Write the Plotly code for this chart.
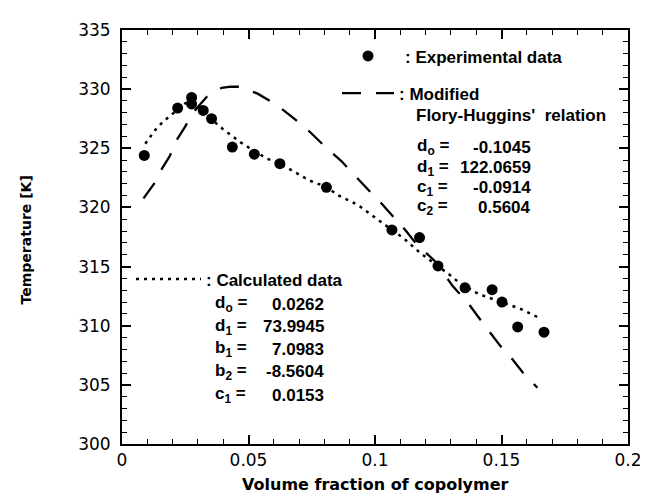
import plotly.graph_objects as go

# ---------------- data ----------------
exp_x = [0.0088, 0.0220, 0.0275, 0.0275, 0.0321, 0.0354, 0.0436, 0.0523, 0.0624,
         0.0808, 0.1067, 0.1176, 0.1249, 0.1356, 0.1463, 0.1502, 0.1564, 0.1668]
exp_t = [324.4, 328.4, 329.3, 328.75, 328.2, 327.5, 325.1, 324.5, 323.7,
         321.7, 318.1, 317.45, 315.05, 313.2, 313.05, 312.0, 309.9, 309.45]

fh_x = [0.0085, 0.0127, 0.0157, 0.0190, 0.0212, 0.0249, 0.0282, 0.0335, 0.0394, 0.0430,
        0.0466, 0.0536, 0.0607, 0.0673, 0.0742, 0.0802, 0.0867, 0.0913, 0.0975, 0.1019,
        0.1078, 0.1123, 0.1163, 0.1235, 0.1308, 0.1367, 0.1404, 0.1452, 0.1492, 0.1544,
        0.1584, 0.1642]
fh_t = [320.76, 322.0, 323.24, 324.39, 325.57, 326.81, 328.05, 329.35, 330.11, 330.22,
        330.2, 329.62, 328.74, 327.64, 326.4, 325.16, 323.92, 322.83, 321.45, 320.49,
        319.11, 318.01, 316.91, 315.5, 313.33, 311.95, 310.86, 309.48, 308.38, 307.14,
        306.04, 304.75]

calc_x = [0.0092, 0.0111, 0.0131, 0.0161, 0.0200, 0.0222, 0.0250, 0.0275, 0.0300, 0.0325,
          0.0354, 0.0400, 0.0436, 0.0469, 0.0520, 0.0574, 0.0624, 0.0696, 0.0742, 0.0808,
          0.0854, 0.0933, 0.1012, 0.1067, 0.1117, 0.1183, 0.1249, 0.1295, 0.1327, 0.1393,
          0.1433, 0.1480, 0.1525, 0.1577, 0.1630, 0.1645]
calc_t = [325.38, 325.99, 326.54, 327.22, 327.92, 328.35, 328.8, 329.0, 328.7, 328.1,
          327.45, 326.6, 326.0, 325.5, 324.8, 324.12, 323.7, 322.8, 322.27, 321.73,
          321.03, 320.2, 318.97, 318.1, 317.32, 316.08, 315.05, 314.3, 313.74, 312.86,
          312.5, 312.15, 311.82, 311.41, 310.85, 310.71]

fh_param_labels = ["d<sub>o</sub> =", "d<sub>1</sub> =", "c<sub>1</sub> =", "c<sub>2</sub> ="]
fh_param_values = ["-0.1045", "122.0659", "-0.0914", "0.5604"]
calc_param_labels = ["d<sub>o</sub> =", "d<sub>1</sub> =", "b<sub>1</sub> =", "b<sub>2</sub> =", "c<sub>1</sub> ="]
calc_param_values = ["0.0262", "73.9945", "7.0983", "-8.5604", "0.0153"]

x_tickvals = [0, 0.05, 0.1, 0.15, 0.2]
x_ticktext = ["0", "0.05", "0.1", "0.15", "0.2"]
y_tickvals = [300, 305, 310, 315, 320, 325, 330, 335]

# ---------------- layout helpers (pixel -> paper) ----------------
W, H = 648, 497
ML, MR, MT, MB = 114, 28, 13, 61
PW, PH = W - ML - MR, H - MT - MB


def px(xp):
    return (xp - ML) / PW


def py(yp):
    return (H - MB - yp) / PH


TFONT = "Liberation Sans"   # Helvetica-like text
NFONT = "DejaVu Sans"       # wide tick numerals / axis titles
TXT = 17

fig = go.Figure()

fig.add_trace(go.Scatter(
    x=calc_x, y=calc_t, mode="lines", name="<b>: Calculated data</b>",
    line=dict(color="black", width=2.5, dash="3px,5px"),
    legend="legend3"))

fig.add_trace(go.Scatter(
    x=fh_x, y=fh_t, mode="lines", name="<b>: Modified</b>",
    line=dict(color="black", width=2.3, dash="19px,15px"),
    legend="legend2"))

fig.add_trace(go.Scatter(
    x=exp_x, y=exp_t, mode="markers", name="<b>: Experimental data</b>",
    marker=dict(color="black", size=11, symbol="circle"),
    legend="legend"))

annotations = []
annotations.append(dict(text="<b>Flory-Huggins'&nbsp; relation</b>", x=px(406), y=py(100),
                        xanchor="left", yanchor="middle"))
up_rows = [133, 153.5, 174, 194]
for lab, val, yy in zip(fh_param_labels, fh_param_values, up_rows):
    annotations.append(dict(text="<b>" + lab + "</b>", x=px(407), y=py(yy), xanchor="left", yanchor="middle"))
    annotations.append(dict(text="<b>" + val + "</b>", x=px(525), y=py(yy), xanchor="right", yanchor="middle"))
low_rows = [293, 316, 339, 362, 386]
for lab, val, yy in zip(calc_param_labels, calc_param_values, low_rows):
    annotations.append(dict(text="<b>" + lab + "</b>", x=px(205), y=py(yy), xanchor="left", yanchor="middle"))
    annotations.append(dict(text="<b>" + val + "</b>", x=px(318), y=py(yy), xanchor="right", yanchor="middle"))
for a in annotations:
    a.update(xref="paper", yref="paper", showarrow=False,
             font=dict(family=TFONT, size=TXT, color="black"))

# axis titles placed as text
annotations.append(dict(text="<b>Temperature [K]</b>", x=px(18), y=py(228),
                        xref="paper", yref="paper", showarrow=False, textangle=-90,
                        xanchor="center", yanchor="middle",
                        font=dict(family=NFONT, size=14, color="black")))
annotations.append(dict(text="<b>Volume fraction of copolymer</b>", x=px(367), y=py(477),
                        xref="paper", yref="paper", showarrow=False,
                        xanchor="center", yanchor="middle",
                        font=dict(family=NFONT, size=16, color="black")))

leg_common = dict(bgcolor="rgba(0,0,0,0)", borderwidth=0, xanchor="left", yanchor="middle",
                  font=dict(family=TFONT, size=TXT, color="black"), tracegroupgap=0)

axis_common = dict(showline=True, linecolor="black", linewidth=2, mirror="allticks",
                   ticks="inside", ticklen=9, tickwidth=1.5, tickcolor="black",
                   showgrid=False, zeroline=False,
                   tickfont=dict(family=NFONT, size=17, color="black"))

fig.update_layout(
    width=W, height=H,
    margin=dict(l=ML, r=MR, t=MT, b=MB),
    paper_bgcolor="white", plot_bgcolor="white",
    showlegend=True,
    legend=dict(x=px(323), y=py(40), itemwidth=64, **leg_common),
    legend2=dict(x=px(329), y=py(78), itemwidth=52, **leg_common),
    legend3=dict(x=px(123), y=py(268), itemwidth=65, **leg_common),
    xaxis=dict(range=[0, 0.2], tickvals=x_tickvals, ticktext=x_ticktext,
               minor=dict(dtick=0.01, ticks="inside", ticklen=5, tickwidth=1.2, tickcolor="black"),
               **axis_common),
    yaxis=dict(range=[300, 335], tickvals=y_tickvals,
               minor=dict(dtick=1, ticks="inside", ticklen=5, tickwidth=1.2, tickcolor="black"),
               ticklabelstandoff=6,
               **axis_common),
    annotations=annotations,
)

fig.write_html("out.html")
